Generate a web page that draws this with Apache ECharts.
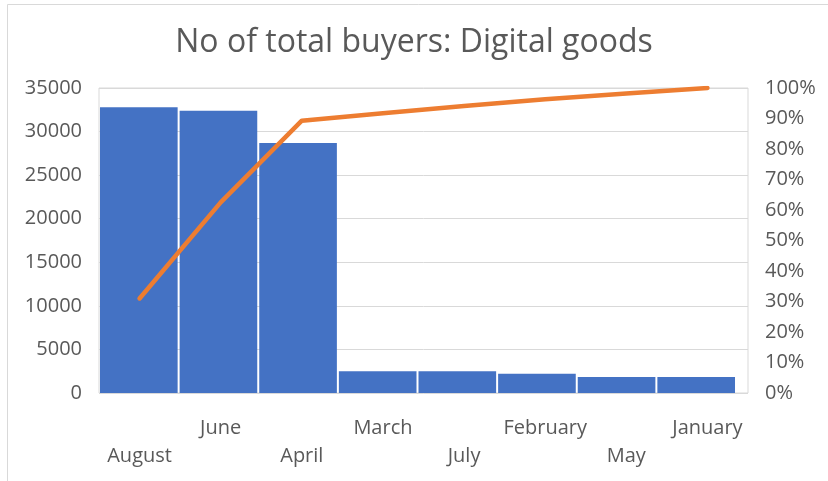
<!DOCTYPE html>
<html>
<head>
<meta charset="utf-8">
<script src="https://cdn.jsdelivr.net/npm/echarts@6/dist/echarts.min.js"></script>
<style>
    html, body {margin: 0; padding: 0; background: #fff;}
</style>
</head>
<body>
<div id="pareto_chart" style="width: 828px;height:481px;"></div>
<script type="text/javascript">

    // categories, sorted as in the chart
    var months = ["August", "June", "April", "March", "July", "February", "May", "January"];
    // number of buyers per month
    var buyers = [32800, 32400, 28700, 2500, 2500, 2200, 1850, 1850];
    // cumulative share, in percent
    var cumulative = [31, 62.5, 89.3, 91.7, 94.1, 96.3, 98.2, 100];

    var leftTicks = {min: 0, max: 35000, interval: 5000};
    var rightTicks = {min: 0, max: 100, interval: 10};

    var textColor = '#595959';
    var lineGrey = '#d9d9d9';
    var font = 'Open Sans';

    var myChart = echarts.init(document.getElementById('pareto_chart'));

    var option = {
        backgroundColor: '#fff',
        animation: false,
        textStyle: {fontFamily: font},
        title: {
            text: 'No of total buyers: Digital goods',
            left: 'center',
            top: 22,
            textStyle: {fontFamily: font, fontSize: 32, fontWeight: 'normal', color: textColor}
        },
        graphic: [{
            type: 'rect',
            shape: {x: 7.5, y: 4.5, width: 900, height: 600},
            style: {fill: 'none', stroke: lineGrey, lineWidth: 1},
            silent: true
        }],
        grid: [
            // frame + line
            {left: 99, right: 80, top: 88, bottom: 88, show: true, borderColor: lineGrey, borderWidth: 1, backgroundColor: 'transparent'},
            // bars (Excel's pareto bars stop short of the right edge)
            {left: 99, right: 92, top: 88, bottom: 88}
        ],
        xAxis: [
            {
                type: 'category',
                gridIndex: 0,
                data: months,
                axisLine: {show: false},
                axisTick: {show: false},
                axisLabel: {
                    interval: 0,
                    margin: 21,
                    color: textColor,
                    fontSize: 20,
                    lineHeight: 28,
                    fontFamily: font,
                    formatter: function (value, index) {
                        return index % 2 === 0 ? '\n' + value : value;
                    }
                }
            },
            {
                type: 'category',
                gridIndex: 1,
                data: months,
                axisLine: {show: false},
                axisTick: {show: false},
                axisLabel: {show: false}
            }
        ],
        yAxis: [
            {
                type: 'value',
                gridIndex: 0,
                min: leftTicks.min,
                max: leftTicks.max,
                interval: leftTicks.interval,
                axisLine: {show: false},
                axisTick: {show: false},
                splitLine: {lineStyle: {color: lineGrey, width: 1}},
                axisLabel: {
                    color: textColor, fontSize: 20, margin: 17, fontFamily: font,
                    padding: [4, 0, 0, 0],
                    formatter: function (v) { return String(v); }
                }
            },
            {
                type: 'value',
                gridIndex: 0,
                position: 'right',
                min: rightTicks.min,
                max: rightTicks.max,
                interval: rightTicks.interval,
                axisLine: {show: false},
                axisTick: {show: false},
                splitLine: {show: false},
                axisLabel: {color: textColor, fontSize: 20, margin: 17, fontFamily: font, padding: [3, 0, 0, 0], formatter: '{value}%'}
            },
            {
                type: 'value',
                gridIndex: 1,
                min: leftTicks.min,
                max: leftTicks.max,
                show: false,
                splitLine: {show: false}
            }
        ],
        series: [
            {
                name: 'Buyers',
                type: 'bar',
                xAxisIndex: 1,
                yAxisIndex: 2,
                data: buyers,
                barCategoryGap: '2.5%',
                itemStyle: {color: '#4472C4'}
            },
            {
                name: 'Cumulative',
                type: 'line',
                xAxisIndex: 0,
                yAxisIndex: 1,
                data: cumulative,
                showSymbol: false,
                z: 5,
                lineStyle: {color: '#ED7D31', width: 4.5, cap: 'round', join: 'round'}
            }
        ]
    };

    myChart.setOption(option);
</script>
</body>
</html>
